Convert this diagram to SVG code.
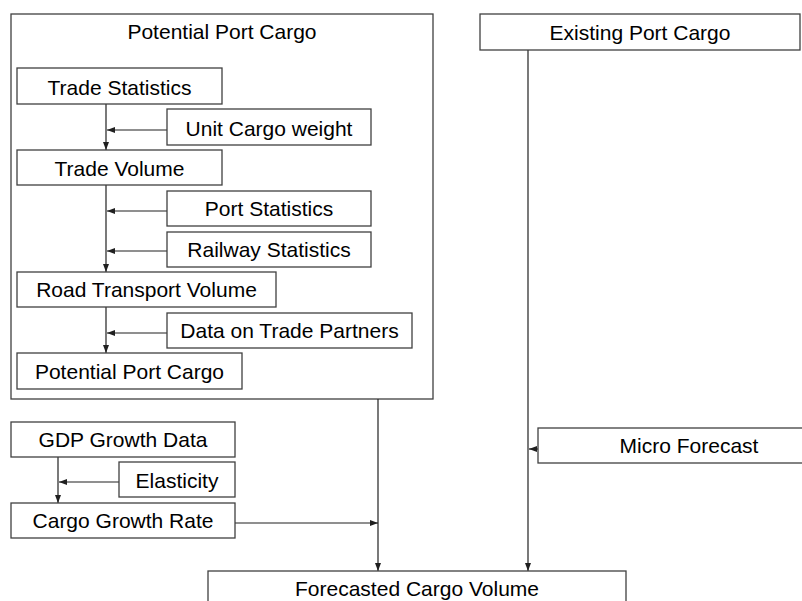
<svg xmlns="http://www.w3.org/2000/svg" width="802" height="601" viewBox="0 0 802 601">
<style>
.box{fill:#fff;stroke:#404040;stroke-width:1.3}
.outer{fill:none;stroke:#404040;stroke-width:1.3}
.t{font-family:"Liberation Sans",Arial,sans-serif;font-size:21px;fill:#000;text-anchor:middle}
.c{fill:none;stroke:#202020;stroke-width:1.2}
</style>
<defs>
<marker id="ah" markerUnits="userSpaceOnUse" markerWidth="8" markerHeight="6" refX="8" refY="3" orient="auto">
<path d="M0,0 L8,3 L0,6 z" fill="#202020"/>
</marker>
</defs>
<g id="potential-port-cargo-group">
<rect class="outer" x="11" y="14" width="422" height="385"/>
<text class="t" x="222" y="39">Potential Port Cargo</text>
</g>
<g id="connectors">
<line class="c" x1="106" y1="104" x2="106" y2="150" marker-end="url(#ah)"/>
<line class="c" x1="106" y1="185" x2="106" y2="272" marker-end="url(#ah)"/>
<line class="c" x1="106" y1="307" x2="106" y2="353" marker-end="url(#ah)"/>
<line class="c" x1="167" y1="130" x2="107" y2="130" marker-end="url(#ah)"/>
<line class="c" x1="167" y1="211" x2="107" y2="211" marker-end="url(#ah)"/>
<line class="c" x1="167" y1="251" x2="107" y2="251" marker-end="url(#ah)"/>
<line class="c" x1="167" y1="333" x2="107" y2="333" marker-end="url(#ah)"/>
<line class="c" x1="58" y1="457" x2="58" y2="503" marker-end="url(#ah)"/>
<line class="c" x1="119" y1="482" x2="59" y2="482" marker-end="url(#ah)"/>
<line class="c" x1="235" y1="523" x2="378" y2="523" marker-end="url(#ah)"/>
<line class="c" x1="378" y1="399" x2="378" y2="571" marker-end="url(#ah)"/>
<line class="c" x1="528" y1="50" x2="528" y2="571" marker-end="url(#ah)"/>
<line class="c" x1="538" y1="449" x2="529" y2="449" marker-end="url(#ah)"/>
</g>
<g id="trade-statistics"><rect class="box" x="17" y="68" width="205" height="36"/><text class="t" x="119.5" y="95">Trade Statistics</text></g>
<g id="unit-cargo-weight"><rect class="box" x="167" y="109" width="204" height="36"/><text class="t" x="269" y="136">Unit Cargo weight</text></g>
<g id="trade-volume"><rect class="box" x="17" y="150" width="205" height="35"/><text class="t" x="119.5" y="176">Trade Volume</text></g>
<g id="port-statistics"><rect class="box" x="167" y="191" width="204" height="35"/><text class="t" x="269" y="216">Port Statistics</text></g>
<g id="railway-statistics"><rect class="box" x="167" y="232" width="204" height="35"/><text class="t" x="269" y="257">Railway Statistics</text></g>
<g id="road-transport-volume"><rect class="box" x="17" y="272" width="259" height="35"/><text class="t" x="146.5" y="297">Road Transport Volume</text></g>
<g id="data-on-trade-partners"><rect class="box" x="167" y="313" width="245" height="35"/><text class="t" x="289.5" y="338">Data on Trade Partners</text></g>
<g id="potential-port-cargo"><rect class="box" x="17" y="353" width="225" height="36"/><text class="t" x="129.5" y="379">Potential Port Cargo</text></g>
<g id="gdp-growth-data"><rect class="box" x="11" y="422" width="224" height="35"/><text class="t" x="123" y="447">GDP Growth Data</text></g>
<g id="elasticity"><rect class="box" x="119" y="462" width="116" height="35"/><text class="t" x="177" y="488">Elasticity</text></g>
<g id="cargo-growth-rate"><rect class="box" x="11" y="503" width="224" height="35"/><text class="t" x="123" y="528">Cargo Growth Rate</text></g>
<g id="existing-port-cargo"><rect class="box" x="480" y="14" width="320" height="36"/><text class="t" x="640" y="40">Existing Port Cargo</text></g>
<g id="micro-forecast"><rect class="box" x="538" y="428" width="280" height="35"/><text class="t" x="689" y="453">Micro Forecast</text></g>
<g id="forecasted-cargo-volume"><rect class="box" x="208" y="571" width="418" height="45"/><text class="t" x="417" y="596">Forecasted Cargo Volume</text></g>
</svg>
